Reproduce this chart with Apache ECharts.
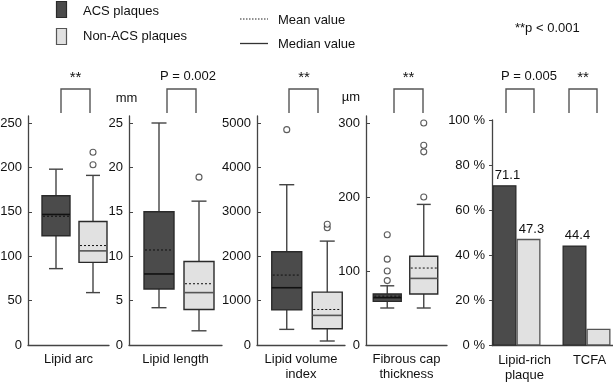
<!DOCTYPE html>
<html><head><meta charset="utf-8">
<script src="https://cdn.jsdelivr.net/npm/echarts@6/dist/echarts.min.js"></script>
<style>html,body{margin:0;padding:0;background:#fff}#c{width:613px;height:383px}</style>
</head><body><div id="c"></div>
<script>
// ---------- data ----------
const groups = ['ACS plaques', 'Non-ACS plaques'];
const panelNames = ['Lipid arc', 'Lipid length', 'Lipid volume\nindex', 'Fibrous cap\nthickness'];
// box stats: [min, Q1, median, Q3, max]
const arcACS = [86, 123, 147, 168, 198];
const arcNon = [59, 93, 106, 139, 191];
const arcMean = [145, 112];
const arcOutliers = [[1, 203], [1, 217]];

const lenACS = [4.2, 6.3, 8.0, 15.0, 25];
const lenNon = [1.6, 4.0, 5.9, 9.4, 16.2];
const lenMean = [10.7, 6.9];
const lenOutliers = [[1, 18.9]];

const volACS = [352, 790, 1290, 2100, 3610];
const volNon = [90, 367, 667, 1190, 2340];
const volMean = [1575, 800];
const volOutliers = [[0, 4850], [1, 2640], [1, 2720]];

const capACS = [50, 59, 64, 69, 80];
const capNon = [50, 69, 90, 120, 190];
const capMean = [66, 104];
const capOutliers = [[0, 87], [0, 100], [0, 116], [0, 149], [1, 200], [1, 261], [1, 270], [1, 300]];

const barCats = ['Lipid-rich\nplaque', 'TCFA'];
const barACS = [71.1, 44.4];
const barNon = [47.3, 7.4];

const ticksArc = [0, 50, 100, 150, 200, 250];
const ticksLen = [0, 5, 10, 15, 20, 25];
const ticksVol = [0, 1000, 2000, 3000, 4000, 5000];
const ticksCap = [0, 100, 200, 300];
const ticksPct = [0, 20, 40, 60, 80, 100];

const sigLabels = ['**', 'P = 0.002', '**', '**', 'P = 0.005', '**'];
const unitLabels = ['mm', 'µm'];
const pNote = '**p < 0.001';

// ---------- styles / layout ----------
const FONT = "'Liberation Sans', Arial, Helvetica, sans-serif";
const DARK = '#4b4b4b', LIGHT = '#e1e1e1', EDGE = '#2a2a2a', AX = '#444', TXT = '#111';
const TOP = 116, H = 229; // axis line from 116 to 345
const TOPTICK_H = 222;      // highest tick 7px below axis top

const panels = [
  {name: panelNames[0], acs: arcACS, non: arcNon, mean: arcMean, out: arcOutliers, ticks: ticksArc,
   frame: [28, 81], data: [37.5, 74], bw: 28},
  {name: panelNames[1], acs: lenACS, non: lenNon, mean: lenMean, out: lenOutliers, ticks: ticksLen,
   frame: [129, 93], data: [139, 80], bw: 30},
  {name: panelNames[2], acs: volACS, non: volNon, mean: volMean, out: volOutliers, ticks: ticksVol,
   frame: [257, 88], data: [266.5, 81], bw: 30},
  {name: panelNames[3], acs: capACS, non: capNon, mean: capMean, out: capOutliers, ticks: ticksCap,
   frame: [366, 81], data: [369, 73], bw: 28}
];

const grid = [], xAxis = [], yAxis = [], series = [];

function boxRender(bw) {
  return function (params, api) {
    const cat = api.value(0);
    const c = i => api.coord([cat, api.value(i)]);
    const pMin = c(1), pQ1 = c(2), pMed = c(3), pQ3 = c(4), pMax = c(5), pMean = c(6);
    const x = pMed[0], h = bw / 2, cap = bw / 4;
    const wStyle = {stroke: '#444', lineWidth: 1.4};
    return {type: 'group', children: [
      {type: 'line', shape: {x1: x, y1: pMin[1], x2: x, y2: pQ1[1]}, style: wStyle},
      {type: 'line', shape: {x1: x, y1: pQ3[1], x2: x, y2: pMax[1]}, style: wStyle},
      {type: 'line', shape: {x1: x - cap, y1: pMin[1], x2: x + cap, y2: pMin[1]}, style: wStyle},
      {type: 'line', shape: {x1: x - cap, y1: pMax[1], x2: x + cap, y2: pMax[1]}, style: wStyle},
      {type: 'rect', shape: {x: x - h, y: pQ3[1], width: bw, height: pQ1[1] - pQ3[1]},
       style: {fill: cat === 0 ? DARK : LIGHT, stroke: EDGE, lineWidth: 1.4}},
      {type: 'line', shape: {x1: x - h, y1: pMed[1], x2: x + h, y2: pMed[1]},
       style: {stroke: cat === 0 ? '#111' : '#555', lineWidth: 1.6}},
      {type: 'line', shape: {x1: x - h + 1, y1: pMean[1], x2: x + h - 1, y2: pMean[1]},
       style: {stroke: '#111', lineWidth: 1, lineDash: [2, 2]}}
    ]};
  };
}

panels.forEach((p, i) => {
  const max = p.ticks[p.ticks.length - 1] * H / TOPTICK_H;
  const fi = grid.length;
  // frame grid: visible axes
  grid.push({left: p.frame[0], width: p.frame[1], top: TOP, height: H, containLabel: false, outerBoundsMode: 'none'});
  xAxis.push({gridIndex: fi, type: 'category', data: [p.name],
    axisLine: {lineStyle: {color: AX, width: 1.3}}, axisTick: {show: false},
    axisLabel: {color: TXT, fontSize: 13, fontFamily: FONT, margin: 7, lineHeight: 15}});
  yAxis.push({gridIndex: fi, type: 'value', min: 0, max: max,
    axisLine: {show: true, lineStyle: {color: AX, width: 1.3}},
    axisTick: {show: true, inside: true, length: 4, customValues: p.ticks, lineStyle: {color: AX}},
    axisLabel: {color: TXT, fontSize: 13, fontFamily: FONT, margin: 6, customValues: p.ticks,
      formatter: v => String(v)},
    splitLine: {show: false}});
  // data grid: hidden axes, same vertical scale
  const di = grid.length;
  grid.push({left: p.data[0], width: p.data[1], top: TOP, height: H, containLabel: false, outerBoundsMode: 'none'});
  xAxis.push({gridIndex: di, type: 'category', data: groups, show: false});
  yAxis.push({gridIndex: di, type: 'value', min: 0, max: max, show: false, splitLine: {show: false}});
  series.push({type: 'custom', xAxisIndex: di, yAxisIndex: di, renderItem: boxRender(p.bw),
    encode: {x: 0, y: [1, 2, 3, 4, 5, 6]},
    data: [[0, ...p.acs, p.mean[0]], [1, ...p.non, p.mean[1]]], clip: false, silent: true});
  series.push({type: 'scatter', xAxisIndex: di, yAxisIndex: di, data: p.out, symbol: 'circle', symbolSize: 6,
    itemStyle: {color: '#fff', borderColor: '#333', borderWidth: 1.1}, silent: true});
});

// bar panel
const bfi = grid.length;
grid.push({left: 492, width: 130, top: 120, height: 225.5, containLabel: false, outerBoundsMode: 'none'});
xAxis.push({gridIndex: bfi, type: 'category', data: barCats,
  axisLine: {lineStyle: {color: AX, width: 1.3}}, axisTick: {show: false},
  axisLabel: {color: TXT, fontSize: 13, fontFamily: FONT, margin: 7, lineHeight: 15, interval: 0}});
yAxis.push({gridIndex: bfi, type: 'value', min: 0, max: 100, interval: 20,
  axisLine: {show: true, lineStyle: {color: AX, width: 1.3}},
  axisTick: {show: true, inside: false, length: 3, lineStyle: {color: AX}},
  axisLabel: {color: TXT, fontSize: 13, fontFamily: FONT, margin: 7, formatter: '{value} %', customValues: ticksPct},
  splitLine: {show: false}});
const bdi = grid.length;
grid.push({left: 481.5, width: 140, top: 120, height: 225.5, containLabel: false, outerBoundsMode: 'none'});
xAxis.push({gridIndex: bdi, type: 'category', data: barCats, show: false});
yAxis.push({gridIndex: bdi, type: 'value', min: 0, max: 100, show: false, splitLine: {show: false}});
const barLabel = {show: true, position: 'top', distance: 3, color: TXT, fontSize: 13, fontFamily: FONT, formatter: '{c}', offset: [3, 0]};
series.push({type: 'bar', name: groups[0], xAxisIndex: bdi, yAxisIndex: bdi, data: barACS, barWidth: 24, barGap: '0%',
  itemStyle: {color: DARK, borderColor: EDGE, borderWidth: 1.3}, label: barLabel, silent: true});
series.push({type: 'bar', name: groups[1], xAxisIndex: bdi, yAxisIndex: bdi,
  data: barNon.map((v, i) => ({value: v, label: {show: i === 0}})), barWidth: 24,
  itemStyle: {color: LIGHT, borderColor: '#555', borderWidth: 1.3}, label: barLabel, silent: true});

// ---------- annotations ----------
const txt = (x, y, s, align) => ({type: 'text', x: x, y: y,
  style: {text: s, fill: TXT, font: '13px ' + FONT, textAlign: align || 'center', textVerticalAlign: 'middle'}});
const bracket = (x1, x2) => ({type: 'polyline', shape: {points: [[x1, 113], [x1, 89], [x2, 89], [x2, 113]]},
  style: {stroke: '#555', lineWidth: 1.4, fill: null}});
const brackets = [[61, 90], [167, 196], [289, 318], [394, 423], [506, 534], [569, 597]];
const sigPos = [[75.5, 78], [188, 76], [304, 78], [408.5, 78], [529, 76], [583, 78]];
const graphic = [];
brackets.forEach(b => graphic.push(bracket(b[0], b[1])));
sigPos.forEach((p, i) => graphic.push(Object.assign(txt(p[0], p[1], sigLabels[i]),
  sigLabels[i] === '**' ? {style: {text: '**', fill: TXT, font: '15px ' + FONT, textAlign: 'center', textVerticalAlign: 'middle'}} : {})));
graphic.push(txt(126.5, 98, unitLabels[0]));
graphic.push(txt(351, 97, unitLabels[1]));
// legend
graphic.push({type: 'rect', shape: {x: 56.5, y: 1.5, width: 10, height: 16}, style: {fill: DARK, stroke: EDGE, lineWidth: 1.2}});
graphic.push({type: 'rect', shape: {x: 56.5, y: 28.5, width: 10, height: 16}, style: {fill: LIGHT, stroke: '#555', lineWidth: 1.2}});
graphic.push(txt(83, 11, groups[0], 'left'));
graphic.push(txt(83, 36, groups[1], 'left'));
graphic.push({type: 'line', shape: {x1: 240, y1: 19, x2: 268, y2: 19}, style: {stroke: '#222', lineWidth: 1, lineDash: [1.5, 1.5]}});
graphic.push({type: 'line', shape: {x1: 240, y1: 43.5, x2: 268, y2: 43.5}, style: {stroke: '#333', lineWidth: 1.3}});
graphic.push(txt(278, 20, 'Mean value', 'left'));
graphic.push(txt(278, 44, 'Median value', 'left'));
graphic.push(txt(515, 28, pNote, 'left'));

const chart = echarts.init(document.getElementById('c'), null, {renderer: 'canvas'});
chart.setOption({
  animation: false,
  backgroundColor: '#fff',
  textStyle: {fontFamily: FONT},
  grid, xAxis, yAxis, series, graphic
});
</script></body></html>
